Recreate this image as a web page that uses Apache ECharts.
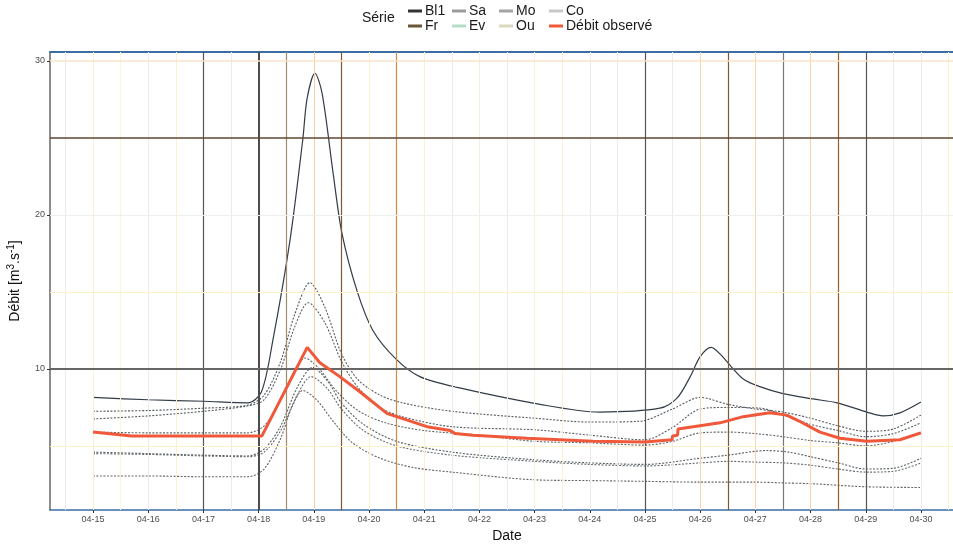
<!DOCTYPE html>
<html>
<head>
<meta charset="utf-8">
<script src="https://cdn.jsdelivr.net/npm/echarts@6/dist/echarts.min.js"></script>
<style>html,body{margin:0;padding:0;background:#fff}#c{width:953px;height:544px}</style>
</head>
<body>
<div id="c"></div>
<script>
// ---------- data (x = day of April) ----------
const seriesNames = ['Bl1', 'Fr', 'Sa', 'Ev', 'Mo', 'Ou', 'Co', 'Débit observé'];
const legendColors = ['#333333', '#6b5738', '#9a9a9a', '#b7dcc6', '#a3a3a3', '#dcd8bf', '#c8c8c8', '#f0583a'];

const bl1X = [15,16,17,17.8,18.05,18.26,18.57,18.8,18.88,19.02,19.15,19.35,19.51,19.78,20.07,20.5,20.92,21.6,23.1,24.18,25.27,25.58,25.82,26.0,26.2,26.38,26.55,26.78,27.08,27.5,28.04,28.48,29.02,29.31,29.62,30];
const bl1Y = [8.15,8.0,7.9,7.8,8.5,11.9,18.4,24.9,27.6,29.2,27.9,22.7,18.8,15.1,12.5,10.6,9.5,8.8,7.7,7.2,7.45,8.1,9.5,10.8,11.4,10.9,10.2,9.35,8.85,8.4,8.05,7.8,7.2,6.95,7.15,7.85];

const frX = [15,16,17,17.8,18.1,18.4,18.65,18.93,19.2,19.5,19.8,20.2,20.6,21.5,23,24,24.9,25.5,26,26.5,27,27.5,28,28.5,29,29.5,30];
const frY = [7.25,7.3,7.45,7.65,8.3,10.5,13.5,15.6,14.0,11.0,9.3,8.3,7.8,7.25,6.8,6.55,6.6,7.4,8.15,7.7,7.4,7.2,6.8,6.3,5.95,6.1,7.0];

const saX = [15,16,17,17.8,18.1,18.4,18.65,18.9,19.2,19.5,19.8,20.2,20.6,21.5,23,24,25,25.5,26,26.5,27.1,27.5,28,28.5,29,29.5,30];
const saY = [6.75,6.95,7.25,7.6,8.0,10.0,12.7,14.3,13.0,10.5,8.8,7.5,6.9,6.25,6.05,5.7,5.4,6.2,7.4,7.5,7.45,7.0,6.4,6.0,5.6,5.8,6.5];

const evX = [15,16,17,17.8,18.1,18.4,18.65,18.84,19.1,19.4,19.8,20.3,21,22,23,24,25,25.5,26,26.5,27,27.5,28,28.5,29,29.5,30];
const evY = [5.9,5.85,5.85,5.85,6.3,8.0,9.9,10.7,10.0,8.6,7.3,6.5,6.0,5.7,5.3,5.2,5.05,5.3,5.85,5.9,5.8,5.6,5.35,5.2,5.0,5.3,5.9];

const moX = [15,16,17,17.8,18.1,18.4,18.7,18.98,19.25,19.5,19.9,20.5,21.5,23,24,25,26,26.5,27.2,27.6,28,28.5,29,29.5,30];
const moY = [4.6,4.5,4.4,4.35,4.8,6.3,8.8,10.1,9.2,7.8,6.4,5.3,4.6,4.1,3.9,3.8,4.2,4.4,4.7,4.6,4.3,3.9,3.5,3.55,4.2];

const ouX = [15,16,17,17.8,18.1,18.4,18.7,18.95,19.25,19.5,19.9,20.5,21.5,23,24,25,26,26.5,27,27.5,28,28.5,29,29.5,30];
const ouY = [4.5,4.45,4.35,4.3,4.6,6.0,8.3,9.5,8.7,7.4,6.0,5.0,4.4,4.0,3.8,3.7,3.9,4.0,3.95,3.9,3.75,3.5,3.3,3.35,3.9];

const coX = [15,16,17,17.8,18.1,18.4,18.6,18.8,19.05,19.35,19.7,20.2,20.8,21.5,23,24,25,26,27,27.5,28,29,30];
const coY = [3.05,3.05,3.0,3.0,3.5,5.5,7.5,8.6,8.0,6.6,5.2,4.2,3.6,3.3,2.8,2.75,2.7,2.65,2.65,2.6,2.55,2.35,2.3];

const obsX = [15,15.7,18.06,18.88,19.11,19.47,19.84,20.33,20.5,21.05,21.47,21.56,21.88,22.86,24.06,25.0,25.49,25.5,25.59,25.6,26.36,26.78,27.26,27.57,27.8,28.17,28.53,29.02,29.62,30];
const obsY = [5.9,5.65,5.65,11.4,10.4,9.5,8.5,7.1,6.9,6.25,6.0,5.8,5.7,5.5,5.3,5.25,5.4,5.65,5.7,6.1,6.5,6.9,7.15,7.0,6.6,5.9,5.5,5.3,5.4,5.85];

const xTickDays = [15,16,17,18,19,20,21,22,23,24,25,26,27,28,29,30];
const xTickLabels = ['04-15','04-16','04-17','04-18','04-19','04-20','04-21','04-22','04-23','04-24','04-25','04-26','04-27','04-28','04-29','04-30'];
const yTickValues = [10, 20, 30];

const xGridDays = [14.5,15,15.5,16,16.5,17,17.5,18,18.5,19,19.5,20,20.5,21,21.5,22,22.5,23,23.5,24,24.5,25,25.5,26,26.5,27,27.5,28,28.5,29,29.5,30,30.5];
const xGridColors = ['#ebebeb','#fbf0cf','#fdf5d6','#ebebeb','#fcf1cc','#555555','#ebebeb','#4d4d4d','#a08c6e','#f6cfa3','#7a5a32','#fcf1cc','#cf8a4a','#fcf1cc','#ebebeb','#f3eede','#ebebeb','#f5f0dc','#fcf1cc','#ebebeb','#ebebeb','#555555','#ebebeb','#f8d5ab','#7a5a32','#f8d5ab','#777777','#f8d5ab','#9a5e28','#555555','#ebebeb','#ebebeb','#fcf1cc'];
const xGridWidths = [1,1,1,1,1,1.2,1,2,1.2,1,1.2,1,1.2,1,1,1,1,1,1,1,1,1.2,1,1,1.2,1,1.2,1,1.2,1.2,1,1,1];
const yGridValues = [5, 10, 15, 20, 25, 30];
const yGridColors = ['#fcf3cc', '#666666', '#fcf3cc', '#eeeeee', '#5e4630', '#fae3c8'];
const yGridWidths = [1, 2.2, 1, 1, 1.5, 1.5];

// ---------- build ----------
const zip = (xs, ys) => xs.map((x, i) => [x, ys[i]]);
const simData = [zip(bl1X, bl1Y), zip(frX, frY), zip(saX, saY), zip(evX, evY), zip(moX, moY), zip(ouX, ouY), zip(coX, coY)];
const simColors = ['#27323e', '#4c5256', '#4f575c', '#566063', '#4d555a', '#5e6468', '#5f5b57'];

const font = 'Liberation Sans, Arial, sans-serif';
const X_MIN = 14.22, X_MAX = 30.78, Y_MIN = 0.84, Y_MAX = 30.58;

const series = [];
series.push({
  type: 'line', data: [], z: 1, silent: true, animation: false,
  markLine: {
    silent: true, symbol: ['none', 'none'], animation: false, label: { show: false },
    data: xGridDays.map((v, i) => ({ xAxis: v, lineStyle: { color: xGridColors[i], width: xGridWidths[i], type: 'solid' } }))
      .concat(yGridValues.map((v, i) => ({ yAxis: v, lineStyle: { color: yGridColors[i], width: yGridWidths[i], type: 'solid' } })))
  }
});
simData.forEach((d, i) => {
  series.push({
    name: seriesNames[i], type: 'line', data: d, smooth: 0.3, showSymbol: false, z: 3,
    color: legendColors[i],
    lineStyle: { color: simColors[i], width: i === 0 ? 1.2 : 1.1, type: i === 0 ? 'solid' : [2, 1.5], opacity: 0.95 }
  });
});
series.push({
  name: seriesNames[7], type: 'line', data: zip(obsX, obsY), showSymbol: false, z: 5,
  color: legendColors[7], lineStyle: { color: '#f0583a', width: 3 }
});

const legendLefts = [408, 452, 499, 549];
const legendTops = [4, 19];
const legendOrder = [[0, 2, 4, 6], [1, 3, 5, 7]];
const legends = [];
legendOrder.forEach((row, r) => row.forEach((si, c) => {
  legends.push({
    left: legendLefts[c], top: legendTops[r], padding: 0, itemWidth: 14, itemHeight: 3, icon: 'rect',
    selectedMode: false,
    textStyle: { fontFamily: font, fontSize: 14, color: '#1a1a1a', padding: [0, 0, 0, -2] },
    data: [{ name: seriesNames[si], itemStyle: { color: legendColors[si] } }]
  });
}));

const option = {
  animation: false,
  backgroundColor: '#ffffff',
  title: { text: 'Série', left: 362, top: 11, padding: 0, textStyle: { fontFamily: font, fontSize: 14, fontWeight: 'normal', color: '#1a1a1a' } },
  legend: legends,
  grid: { left: 50, top: 52, width: 914, height: 458, outerBoundsMode: 'none', containLabel: false },
  xAxis: [{
    type: 'value', min: X_MIN, max: X_MAX, position: 'bottom',
    name: 'Date', nameLocation: 'middle', nameGap: 18,
    nameTextStyle: { fontFamily: font, fontSize: 14, color: '#111' },
    axisLine: { show: true, onZero: false, lineStyle: { color: '#3b6ea5', width: 1.5 } },
    axisTick: { show: true, customValues: xTickDays, length: 3, lineStyle: { color: '#333' } },
    axisLabel: { customValues: xTickDays, formatter: v => xTickLabels[xTickDays.indexOf(v)], fontFamily: font, fontSize: 9, color: '#4d4d4d', margin: 5 },
    splitLine: { show: false }
  }, {
    type: 'value', min: X_MIN, max: X_MAX, position: 'top',
    axisLine: { show: true, onZero: false, lineStyle: { color: '#3b6ea5', width: 2 } },
    axisTick: { show: false }, axisLabel: { show: false }, splitLine: { show: false }
  }],
  yAxis: {
    type: 'value', min: Y_MIN, max: Y_MAX,
    name: '{a|Débit [m}{s|3}{a|.s}{s|-1}{a|]}', nameLocation: 'middle', nameGap: 26, nameRotate: 90,
    nameTextStyle: { rich: {
      a: { fontFamily: font, fontSize: 14, color: '#111' },
      s: { fontFamily: font, fontSize: 10, color: '#111', padding: [0, 0, 8, 0] }
    } },
    axisLine: { show: true, onZero: false, lineStyle: { color: '#666', width: 1.5 } },
    axisTick: { show: true, customValues: yTickValues, length: 3, lineStyle: { color: '#333' } },
    axisLabel: { customValues: yTickValues, fontFamily: font, fontSize: 9, color: '#4d4d4d', margin: 5 },
    splitLine: { show: false }
  },
  series: series
};

const chart = echarts.init(document.getElementById('c'), null, { renderer: 'canvas' });
chart.setOption(option);
</script>
</body>
</html>
